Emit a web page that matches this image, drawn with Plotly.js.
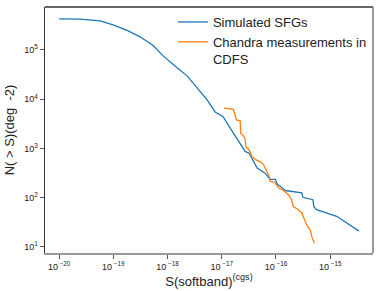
<!DOCTYPE html>
<html>
<head>
<meta charset="utf-8">
<script src="https://cdn.plot.ly/plotly-3.0.1.min.js"></script>
<style>html,body{margin:0;padding:0;background:#fff;}#chart{width:381px;height:291px;}</style>
</head>
<body>
<div id="chart"></div>
<script>
// Simulated SFGs: flux S (cgs) and cumulative counts N(>S) (deg^-2)
const simS = [1.0e-20, 2.44e-20, 5.7e-20, 9.9e-20, 1.8e-19, 3.12e-19, 5.42e-19, 8.3e-19, 1.5e-18, 2.3e-18,
  3.52e-18, 5.38e-18, 7.55e-18, 1.06e-17, 1.62e-17, 2.35e-17, 2.7e-17, 3.2e-17, 3.9e-17, 4.5e-17,
  6.3e-17, 7.8e-17, 9.8e-17, 1.05e-16, 1.38e-16, 1.48e-16, 3.0e-16, 3.15e-16, 4.8e-16, 5.0e-16,
  5.6e-16, 1.32e-15, 3.4e-15];
const simN = [4.27e5, 4.2e5, 3.87e5, 3.21e5, 2.49e5, 1.84e5, 1.23e5, 7.55e4, 4.32e4, 2.97e4,
  1.69e4, 9.7e3, 5.5e3, 4.4e3, 2.1e3, 1120, 870, 800, 540, 400,
  315, 235, 235, 190, 150, 140, 126, 102, 91, 66,
  57, 42, 21];
// Chandra measurements in CDFS
const cdfsS = [1.1e-17, 1.62e-17, 1.74e-17, 1.86e-17, 2.19e-17, 2.24e-17, 2.5e-17, 2.7e-17, 2.8e-17, 3.2e-17,
  3.6e-17, 4.2e-17, 5.1e-17, 5.9e-17, 6.8e-17, 7.6e-17, 7.8e-17, 9.5e-17, 1.12e-16, 1.38e-16,
  1.7e-16, 1.95e-16, 2.1e-16, 2.6e-16, 3.0e-16, 3.7e-16, 4.3e-16, 4.6e-16, 5.1e-16];
const cdfsN = [6560, 6270, 5000, 3800, 3630, 2040, 1820, 1550, 1070, 930,
  690, 590, 540, 470, 340, 265, 215, 205, 157, 140,
  115, 91, 66, 57, 49, 28, 22, 16, 12];
// Tick labels
const xTickVals = [1e-20, 1e-19, 1e-18, 1e-17, 1e-16, 1e-15];
const xTickText = ['10<sup> −20</sup>', '10<sup> −19</sup>', '10<sup> −18</sup>', '10<sup> −17</sup>', '10<sup> −16</sup>', '10<sup> −15</sup>'];
const yTickVals = [1e1, 1e2, 1e3, 1e4, 1e5];
const yTickText = ['10<sup>1</sup>', '10<sup>2</sup>', '10<sup>3</sup>', '10<sup>4</sup>', '10<sup>5</sup>'];

const font = 'Liberation Sans, Arial, sans-serif';
const traces = [
  {x: simS, y: simN, type: 'scatter', mode: 'lines', name: 'Simulated SFGs',
   line: {color: '#1f77b4', width: 1.3}},
  {x: cdfsS, y: cdfsN, type: 'scatter', mode: 'lines', name: 'Chandra measurements in<br>CDFS',
   line: {color: '#ff7f0e', width: 1.3}}
];
const layout = {
  width: 381, height: 291,
  margin: {l: 45, r: 8, t: 7, b: 38},
  paper_bgcolor: '#fff', plot_bgcolor: '#fff',
  font: {family: font, color: '#222'},
  showlegend: true,
  legend: {x: 0.39, y: 1.0, xanchor: 'left', yanchor: 'top', bgcolor: 'rgba(0,0,0,0)',
    borderwidth: 0, font: {size: 13, family: font, color: '#222'}, valign: 'top'},
  xaxis: {type: 'log', range: [-20.26, -14.21], showgrid: false, zeroline: false,
    showline: true, linecolor: '#999', linewidth: 2, mirror: false,
    ticks: 'outside', ticklen: 4, tickcolor: '#555', tickwidth: 1,
    tickvals: xTickVals, ticktext: xTickText, tickfont: {size: 9, family: font, color: '#222'},
    title: {text: 'S(softband)<sup>(cgs)</sup>', font: {size: 13, family: font, color: '#222'}, standoff: 6}},
  yaxis: {type: 'log', range: [0.878, 5.87], showgrid: false, zeroline: false,
    showline: true, linecolor: '#333', linewidth: 1.5, mirror: false,
    ticks: 'outside', ticklen: 4, tickcolor: '#555', tickwidth: 1,
    tickvals: yTickVals, ticktext: yTickText, tickfont: {size: 9, family: font, color: '#222'},
    title: {text: 'N( > S)(deg  -2)', font: {size: 13, family: font, color: '#222'}, standoff: 6}},
  shapes: [
    {type: 'line', xref: 'paper', yref: 'paper', x0: 0, x1: 1, y0: 1, y1: 1, line: {color: '#333', width: 1.5}},
    {type: 'line', xref: 'paper', yref: 'paper', x0: 1, x1: 1, y0: 0, y1: 1, line: {color: '#777', width: 1.5}}
  ]
};
Plotly.newPlot('chart', traces, layout, {displayModeBar: false, staticPlot: true});
</script>
</body>
</html>
